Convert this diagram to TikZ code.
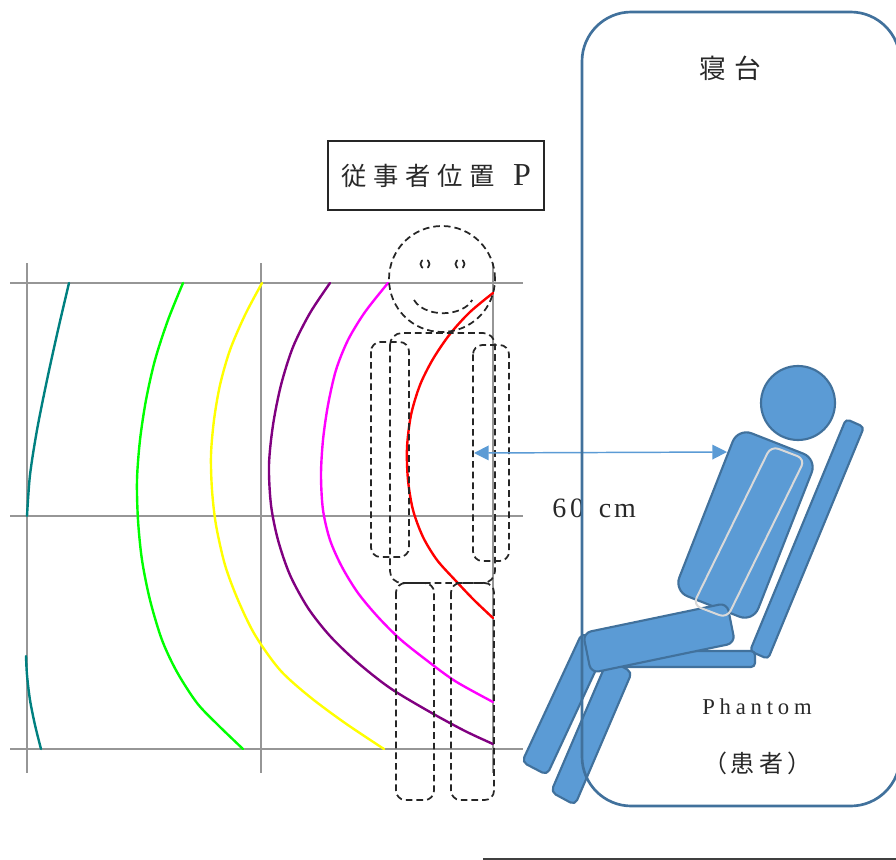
\documentclass[tikz,border=0pt]{standalone}
\usepackage{fontspec}
\newfontfamily\jpfont{Noto Sans CJK JP}
\newfontfamily\latfont{Liberation Serif}
\usetikzlibrary{arrows.meta}
\definecolor{gridgray}{RGB}{150,150,150}
\definecolor{cTeal}{RGB}{0,128,128}
\definecolor{cGreen}{RGB}{0,255,0}
\definecolor{cYellow}{RGB}{255,255,0}
\definecolor{cPurple}{RGB}{128,0,128}
\definecolor{cMagenta}{RGB}{255,0,255}
\definecolor{cRed}{RGB}{255,0,0}
\definecolor{phFill}{RGB}{91,155,213}
\definecolor{phLine}{RGB}{65,113,156}
\definecolor{stripGray}{RGB}{217,217,217}
\definecolor{txtDark}{RGB}{40,40,40}
\begin{document}
\begin{tikzpicture}[x=0.75pt,y=-0.75pt,
  gridline/.style={draw=gridgray, line width=1.2pt},
  contour/.style={line width=1.8pt, line join=round, line cap=round},
  figdash/.style={draw=black!85, line width=1.3pt, dash pattern=on 5pt off 3pt},
  body/.style={fill=phFill, draw=phLine, line width=1.6pt, line join=round},
  bedline/.style={draw=phLine, line width=2pt},
  measure/.style={draw=phFill, line width=1.1pt, {Triangle[length=11pt,width=11pt]}-{Triangle[length=11pt,width=11pt]}},
  txt/.style={inner sep=0pt, text=txtDark}]
\useasboundingbox (0,0) rectangle (896,860);
\clip (0,0) rectangle (896,860);

% dose grid
\foreach \yy in {283,516,749} \draw[gridline] (10,\yy) -- (523,\yy);
\foreach \xx in {27,261,493} \draw[gridline] (\xx,263) -- (\xx,773);

% iso-dose contours
\draw[contour, cTeal] plot[smooth] coordinates {(69,283) (58,330) (47,380) (37,430) (30,475) (27,516)};
\draw[contour, cTeal] plot[smooth] coordinates {(26,656) (27,675) (30,700) (35,725) (41,749)};
\draw[contour, cGreen] plot[smooth] coordinates {(183,283) (168,320) (155,360) (146,400) (140,440) (137,480) (138,520) (142,560) (150,600) (162,640) (177,672) (197,703) (218,725) (243,749)};
\draw[contour, cYellow] plot[smooth] coordinates {(262,283) (245,315) (230,350) (220,385) (214,420) (211,455) (212,490) (216,525) (225,565) (238,600) (255,635) (280,670) (310,697) (345,723) (384,749)};
\draw[contour, cPurple] plot[smooth] coordinates {(330,283) (310,313) (293,347) (281,385) (273,425) (269,465) (271,505) (278,540) (290,575) (308,608) (330,636) (357,662) (390,688) (430,712) (465,731) (493,744)};
\draw[contour, cMagenta] plot[smooth] coordinates {(388,283) (365,312) (348,340) (336,370) (328,405) (323,440) (321,475) (323,510) (330,540) (342,567) (358,593) (378,617) (400,639) (425,659) (455,681) (493,702)};
\draw[contour, cRed] plot[smooth] coordinates {(493,293) (470,312) (450,334) (433,359) (420,385) (411,415) (407,448) (408,480) (413,510) (423,537) (437,560) (455,580) (474,600) (493,618)};

% operator outline (dashed figure)
\draw[figdash] (442,279) circle[radius=39.75pt];
\draw[figdash, dash pattern=on 7pt off 3.5pt, dash phase=3.5pt] (425,264) circle[radius=3.4pt];
\draw[figdash, dash pattern=on 7pt off 3.5pt, dash phase=3.5pt] (460,264) circle[radius=3.4pt];
\draw[figdash] (414,300) arc[start angle=200, end angle=340, x radius=23.25pt, y radius=15pt];
\draw[figdash, rounded corners=9pt] (390,333) rectangle (495,583);
\draw[figdash, rounded corners=7pt] (371,342) rectangle (409,557);
\draw[figdash, rounded corners=7pt] (473,345) rectangle (509,561);
\draw[figdash, rounded corners=7pt] (396,583) rectangle (434,800);
\draw[figdash, rounded corners=7pt] (451,583) rectangle (494,800);

% operator position label
\node[draw=black!85, line width=0.8pt, minimum width=162pt, minimum height=51.75pt, inner sep=0pt, text=txtDark] (oplabel) at (436,175.5)
  {\jpfont\fontsize{19}{19}\selectfont 従\hspace{5pt}事\hspace{5pt}者\hspace{5pt}位\hspace{5pt}置\hspace{14pt}{\latfont\fontsize{24}{24}\selectfont P}};

% distance marker
\coordinate (opside) at (474,453);
\coordinate (ptside) at (727,452);
\draw[measure] (opside) -- (ptside);
\node[txt, anchor=base west] (dist) at (552,517)
  {\latfont\fontsize{21}{21}\selectfont 6\hspace{3pt}0\hspace{11pt}c\hspace{2pt}m};

% phantom seated on the couch
\draw[body, rounded corners=3pt] (846,419) -- (864,427) -- (768,659) -- (750,651) -- cycle;
\draw[body, rounded corners=3pt] (612,651) rectangle (755,667);
\draw[body, rounded corners=4pt] (608,659) -- (632,672) -- (575,805) -- (551,792) -- cycle;
\draw[body, rounded corners=4pt] (582,633) -- (607,646) -- (547,775) -- (522,762) -- cycle;
\draw[body, rounded corners=11pt] (738,428) -- (817,459) -- (753,622) -- (674,591) -- cycle;
\draw[body, rounded corners=6pt] (583,633) -- (727,603) -- (735,643) -- (591,673) -- cycle;
\draw[draw=stripGray, line width=1.5pt, rounded corners=6pt] (771,446) -- (805,459) -- (727,618) -- (693,605) -- cycle;
\draw[body] (798,403) circle[radius=27.75pt];

% couch outline
\draw[bedline, rounded corners=37pt] (582,12) rectangle (900,806);

% texts
\node[txt] (couch) at (730,68) {\jpfont\fontsize{20}{20}\selectfont 寝\hspace{6pt}台};
\node[txt, anchor=base] (phantom) at (757,714)
  {\latfont\fontsize{17}{17}\selectfont P\hspace{3.6pt}h\hspace{3.6pt}a\hspace{3.6pt}n\hspace{3.6pt}t\hspace{3.6pt}o\hspace{3.6pt}m};
\node[txt] (patient) at (757,763) {\jpfont\fontsize{18}{18}\selectfont （\hspace{3pt}患\hspace{3pt}者\hspace{3pt}）};

% bottom edge rule
\draw[black!75, line width=1.5pt] (483,858.5) -- (896,858.5);
\end{tikzpicture}
\end{document}
